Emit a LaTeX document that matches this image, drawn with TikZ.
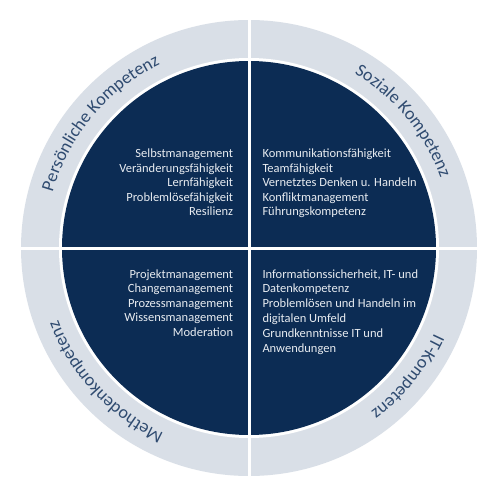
\documentclass[tikz,border=0pt]{standalone}
\usepackage{fontspec}
\setmainfont{Carlito}
\usetikzlibrary{decorations.text}
\definecolor{navy}{HTML}{0C2C54}
\definecolor{ringgrey}{HTML}{D9DFE7}
\definecolor{labelblue}{HTML}{2F4B70}
\definecolor{itemtext}{HTML}{E8ECF1}
\tikzset{
  item/.style={inner sep=0pt, text=itemtext, font=\fontsize{12.5}{14.6}\selectfont},
  itemR/.style={item, anchor=base east},
  itemL/.style={item, anchor=base west},
  divider/.style={draw=white, line width=3pt},
  ringlabel/.style={decorate, decoration={text along path, text align=center, text color=labelblue, text={|\fontsize{18}{20}\selectfont|#1}}}
}
\begin{document}
\begin{tikzpicture}[x=1pt,y=1pt]
\useasboundingbox (0,0) rectangle (500,488);
\fill[white] (0,0) rectangle (500,488);
\coordinate (c) at (249,240);
\fill[ringgrey] (c) circle[radius=228pt];
\fill[white] (c) circle[radius=190pt];
\fill[navy] (c) circle[radius=187pt];
\coordinate (vt) at (249,10);
\coordinate (vb) at (249,470);
\coordinate (hl) at (19,240);
\coordinate (hr) at (479,240);
\path[divider] (vt) -- (vb);
\path[divider] (hl) -- (hr);
% ring labels
\path[ringlabel={Persönliche Kompetenz}] ([shift={(180:204pt)}]c) arc[start angle=180, end angle=100, radius=204pt];
\path[ringlabel={Soziale Kompetenz}] ([shift={(80:204pt)}]c) arc[start angle=80, end angle=-1, radius=204pt];
\path[ringlabel={Methodenkompetenz}] ([shift={(263:204pt)}]c) arc[start angle=263, end angle=183, radius=204pt];
\path[ringlabel={IT-Kompetenz}] ([shift={(361:204pt)}]c) arc[start angle=361, end angle=281, radius=204pt];
% items
\foreach \t [count=\i from 0] in {Selbstmanagement, Veränderungsfähigkeit, Lernfähigkeit, Problemlösefähigkeit, Resilienz}
  \node[itemR] (tl\i) at (233.3, 330.5-14.6*\i) {\t};
\foreach \t [count=\i from 0] in {Kommunikationsfähigkeit, Teamfähigkeit, Vernetztes Denken u. Handeln, Konfliktmanagement, Führungskompetenz}
  \node[itemL] (tr\i) at (262.3, 330.5-14.6*\i) {\t};
\foreach \t [count=\i from 0] in {Projektmanagement, Changemanagement, Prozessmanagement, Wissensmanagement, Moderation}
  \node[itemR] (bl\i) at (233.3, 210-14.6*\i) {\t};
\foreach \t [count=\i from 0] in {{Informationssicherheit, IT- und}, Datenkompetenz, Problemlösen und Handeln im, digitalen Umfeld, Grundkenntnisse IT und, Anwendungen}
  \node[itemL] (br\i) at (262.3, 210-14.8*\i) {\t};
\end{tikzpicture}
\end{document}
